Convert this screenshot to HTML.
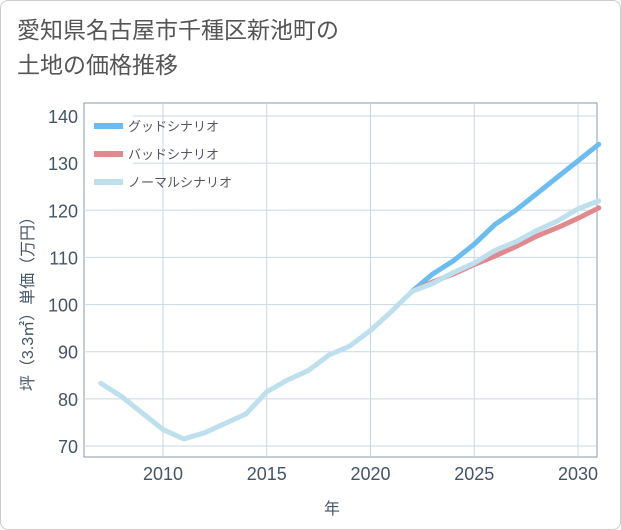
<!DOCTYPE html>
<html><head><meta charset="utf-8"><style>
body{margin:0;background:#fff;}
#wrap{position:relative;width:621px;height:530px;overflow:hidden;}
#frame{position:absolute;left:0;top:0;width:619px;height:528px;border:1px solid #ccc;border-radius:8px;}
#title{position:absolute;left:17px;top:13px;font:23px "Liberation Sans","Noto Sans CJK JP",sans-serif;color:#555;line-height:35px;}
svg{position:absolute;left:0;top:0;}
text{font-family:"Liberation Sans","Noto Sans CJK JP",sans-serif;}
</style></head><body>
<div id="wrap">
<div id="frame"></div>
<div id="title">愛知県名古屋市千種区新池町の<br>土地の価格推移</div>
<svg id="chart" width="621" height="530"></svg>
</div>
<script>
const years=[2007,2008,2009,2010,2011,2012,2013,2014,2015,2016,2017,2018,2019,2020,2021,2022];
const history=[83.3,80.5,77,73.5,71.5,72.8,74.8,76.8,81.5,84,86,89.3,91.2,94.5,98.5,102.8];
const futureYears=[2022,2023,2024,2025,2026,2027,2028,2029,2030,2031];
const good=[102.8,106.5,109.3,112.8,117,120,123.5,127,130.5,134];
const bad=[102.8,104.8,106.5,108.5,110.3,112.3,114.5,116.3,118.3,120.5];
const normal=[102.8,104.5,106.8,108.8,111.5,113.3,115.7,117.7,120.3,122];
const xTicks=[2010,2015,2020,2025,2030];
const yTicks=[70,80,90,100,110,120,130,140];
const L=84,R=597,T=103,B=457;
const xs=y=>163+(y-2010)*(578-163)/20;
const ys=v=>446-(v-70)*(446-116)/70;
const svg=document.getElementById('chart');
const NS='http://www.w3.org/2000/svg';
function mk(t,a,p){const e=document.createElementNS(NS,t);for(const k in a)e.setAttribute(k,a[k]);(p||svg).appendChild(e);return e;}
let e;
e=mk('rect',{x:L,y:T,width:R-L,height:B-T,fill:'#fff',stroke:'#8a9aa8','stroke-width':1});


xTicks.forEach(t=>{
 e=mk('line',{x1:xs(t),x2:xs(t),y1:T,y2:B,stroke:'#c8d8e4'});
 
 
 e=mk('text',{x:xs(t),y:B+23,'text-anchor':'middle','font-size':18,fill:'#445566'});e.textContent=t;
 
 
});
yTicks.forEach(t=>{
 e=mk('line',{x1:L,x2:R,y1:ys(t),y2:ys(t),stroke:'#c8d8e4'});
 
 
 e=mk('text',{x:L-6,y:ys(t)+7,'text-anchor':'end','font-size':18,fill:'#445566'});e.textContent=t;
 
 
});
function line(xv,yv,c,name){
 const d=xv.map((x,i)=>(i?'L':'M')+xs(x)+','+ys(yv[i])).join('');
 e=mk('path',{d:d,fill:'none',stroke:c,'stroke-width':5,'stroke-linejoin':'round','stroke-linecap':'round'});
 
 
}
line(futureYears,good,'#6bbcf0','good-scenario-line');
line(futureYears,bad,'#e08a90','bad-scenario-line');
line(futureYears,normal,'#bde0ec','normal-scenario-line');
line(years,history,'#bde0ec','history-line');
const legNames=['グッドシナリオ','バッドシナリオ','ノーマルシナリオ'];
const legColors=['#6bbcf0','#e08a90','#bde0ec'];
e=mk('rect',{x:L+1,y:T+10,width:48,height:90,fill:'#fff'});
legNames.forEach((n,i)=>{
 const y=126+i*28;
 e=mk('line',{x1:94,x2:123,y1:y,y2:y,stroke:legColors[i],'stroke-width':6});
 
 
 e=mk('text',{x:128,y:y+5,'font-size':13,fill:'#556'});e.textContent=n;
 
 
});
e=mk('text',{x:332,y:514,'text-anchor':'middle','font-size':16,fill:'#445566'});e.textContent='年';


e=mk('text',{x:0,y:0,'text-anchor':'middle','font-size':16,fill:'#445566',transform:'translate(33,300) rotate(-90)'});e.textContent='坪（3.3㎡）単価（万円）';


</script>
</body></html>
